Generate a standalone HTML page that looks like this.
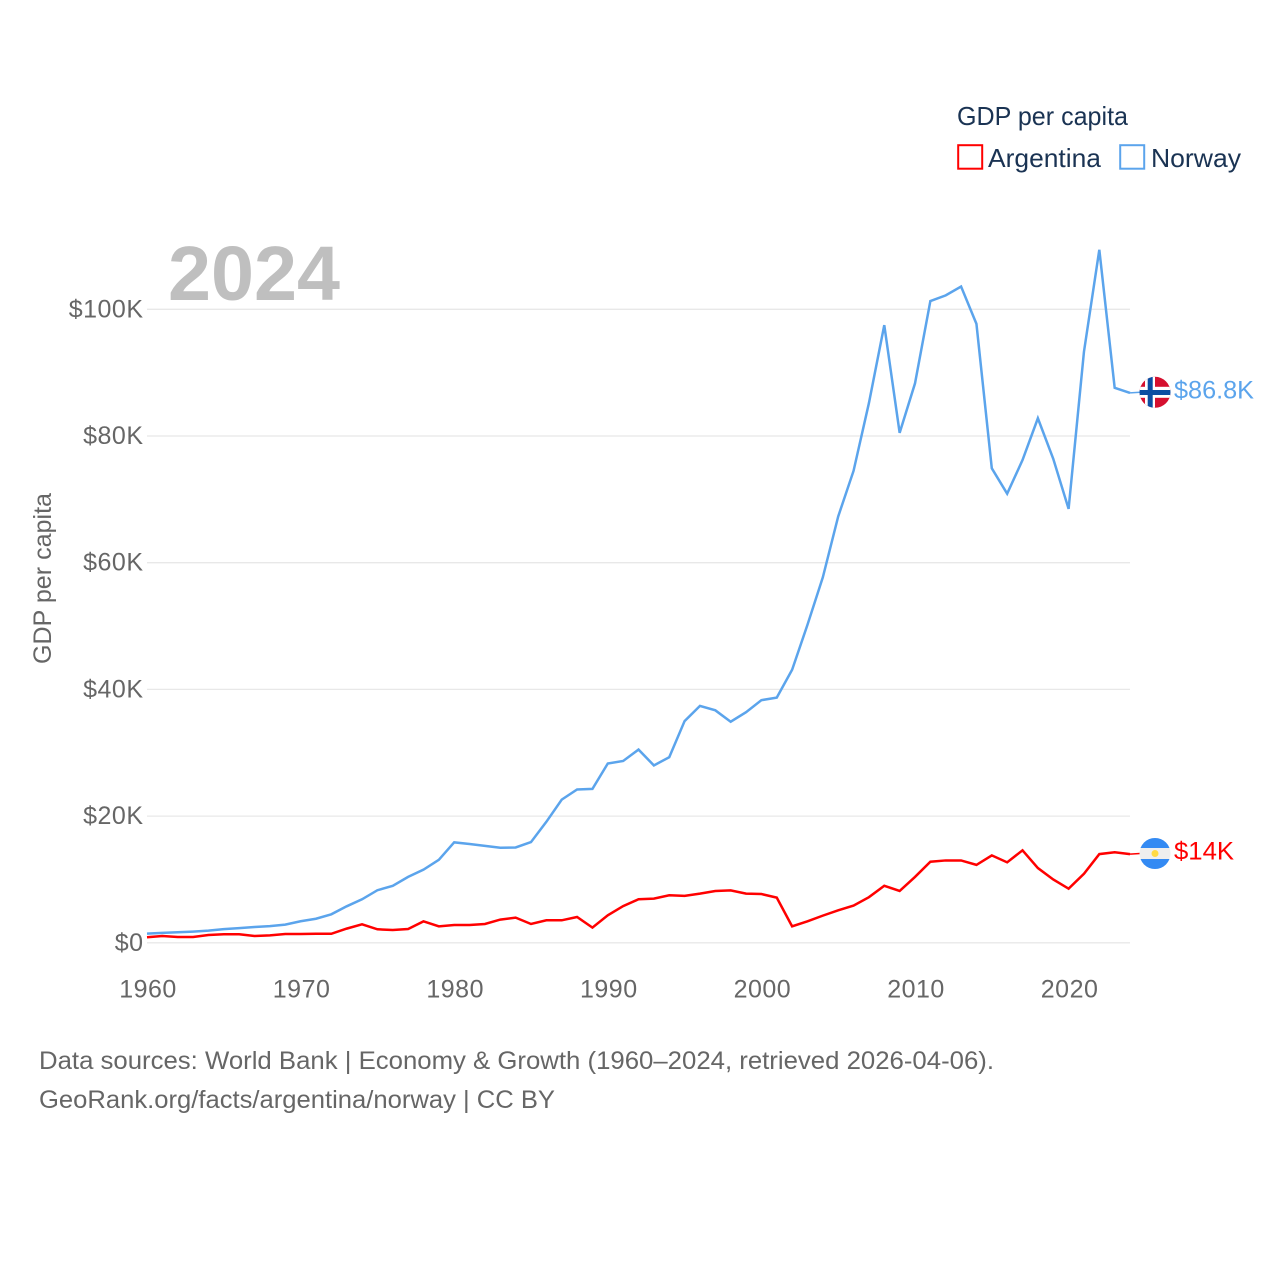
<!DOCTYPE html>
<html lang="en">
<head>
<meta charset="utf-8">
<title>GDP per capita: Argentina and Norway</title>
<style>
html,body{margin:0;padding:0;background:#fff}
svg{display:block}
text{font-family:"Liberation Sans",sans-serif}
.tick{font-size:25px;letter-spacing:.5px;fill:#666}
.foot{font-size:25px;fill:#666}
.leg{font-size:26px;fill:#1a3353}
</style>
</head>
<body>
<svg id="chart" xmlns="http://www.w3.org/2000/svg" width="1280" height="1280" viewBox="0 0 1280 1280">
  <defs>
    <clipPath id="flag-clip-no"><circle cx="1155" cy="392.3" r="15.5"/></clipPath>
    <clipPath id="flag-clip-ar"><circle cx="1155" cy="853.5" r="15.5"/></clipPath>
  </defs>
  <rect width="1280" height="1280" fill="#fff"/>
  <g id="grid"></g>
  <text x="168" y="300" font-size="77" font-weight="700" fill="#bfbfbf" textLength="172" lengthAdjust="spacingAndGlyphs">2024</text>
  <g id="yticks"></g>
  <g id="xticks"></g>
  <text transform="translate(51,578.5) rotate(-90)" text-anchor="middle" font-size="25" fill="#666" textLength="171" lengthAdjust="spacingAndGlyphs">GDP per capita</text>
  <g id="series"></g>

  <g>
    <text class="leg" x="957" y="125" textLength="171" lengthAdjust="spacingAndGlyphs">GDP per capita</text>
    <g>
      <rect x="958.2" y="145.2" width="24" height="23.5" fill="none" stroke="#ff0000" stroke-width="2"/>
      <text class="leg" x="988" y="167" textLength="113" lengthAdjust="spacingAndGlyphs">Argentina</text>
    </g>
    <g>
      <rect x="1120.2" y="145.2" width="24" height="23.5" fill="none" stroke="#5ba4ec" stroke-width="2"/>
      <text class="leg" x="1151" y="167" textLength="90" lengthAdjust="spacingAndGlyphs">Norway</text>
    </g>
  </g>

  <g clip-path="url(#flag-clip-no)">
    <rect x="1139" y="376" width="32" height="32" fill="#d5102f"/>
    <rect x="1145" y="376" width="10" height="32" fill="#fff"/>
    <rect x="1139" y="386.8" width="32" height="11" fill="#fff"/>
    <rect x="1147.7" y="376" width="5" height="32" fill="#0b4ea2"/>
    <rect x="1139" y="390" width="32" height="5" fill="#0b4ea2"/>
  </g>
  <g clip-path="url(#flag-clip-ar)">
    <rect x="1139" y="838" width="32" height="31" fill="#eeeeee"/>
    <rect x="1139" y="838" width="32" height="10" fill="#338af3"/>
    <rect x="1139" y="859" width="32" height="10" fill="#338af3"/>
    <circle cx="1155" cy="853.5" r="3.5" fill="#ffda44"/>
  </g>
  <text x="1174" y="398.5" font-size="25" fill="#5ba4ec" textLength="80" lengthAdjust="spacingAndGlyphs">$86.8K</text>
  <text x="1174" y="859.5" font-size="25" fill="#ff0000" textLength="60" lengthAdjust="spacingAndGlyphs">$14K</text>

  <text class="foot" x="39" y="1069" textLength="955" lengthAdjust="spacingAndGlyphs">Data sources: World Bank | Economy &amp; Growth (1960–2024, retrieved 2026-04-06).</text>
  <text class="foot" x="39" y="1108" textLength="516" lengthAdjust="spacingAndGlyphs">GeoRank.org/facts/argentina/norway | CC BY</text>
</svg>
<script>
const years = [1960,1961,1962,1963,1964,1965,1966,1967,1968,1969,1970,1971,1972,1973,1974,1975,1976,1977,1978,1979,1980,1981,1982,1983,1984,1985,1986,1987,1988,1989,1990,1991,1992,1993,1994,1995,1996,1997,1998,1999,2000,2001,2002,2003,2004,2005,2006,2007,2008,2009,2010,2011,2012,2013,2014,2015,2016,2017,2018,2019,2020,2021,2022,2023,2024];
const argentina = [0.87,1.07,0.92,0.92,1.23,1.34,1.34,1.07,1.18,1.39,1.39,1.42,1.42,2.24,2.92,2.13,2.02,2.18,3.39,2.6,2.81,2.81,2.97,3.66,3.97,2.97,3.55,3.55,4.07,2.4,4.34,5.8,6.87,6.97,7.5,7.4,7.76,8.18,8.28,7.76,7.7,7.13,2.6,3.39,4.29,5.13,5.87,7.2,9.0,8.18,10.4,12.8,13.0,13.0,12.3,13.8,12.7,14.6,11.8,10.0,8.55,10.9,14.0,14.3,14.0];
const norway = [1.44,1.56,1.67,1.77,1.92,2.16,2.31,2.5,2.64,2.87,3.4,3.8,4.5,5.76,6.87,8.3,9.0,10.4,11.55,13.1,15.86,15.6,15.3,15.0,15.05,15.9,19.1,22.6,24.2,24.3,28.3,28.7,30.5,28.0,29.3,35.0,37.4,36.7,34.9,36.4,38.3,38.7,43.1,50.2,57.7,67.3,74.5,85.2,97.5,80.5,88.3,101.3,102.2,103.6,97.7,74.9,70.9,76.2,82.8,76.4,68.5,93.3,109.4,87.6,86.8];
const yTickValues = [0,20,40,60,80,100];
const yTickLabels = ["$0","$20K","$40K","$60K","$80K","$100K"];
const xTickValues = [1960,1970,1980,1990,2000,2010,2020];

const SVG_NS = "http://www.w3.org/2000/svg";
function xScale(year){ return 147 + (year - 1960) * 15.36; }
function yScale(v){ return 942.8 - v * 6.335; }
function make(tag, attrs, parent){
  const el = document.createElementNS(SVG_NS, tag);
  for (const k in attrs) el.setAttribute(k, attrs[k]);
  parent.appendChild(el);
  return el;
}

const gridGroup = document.getElementById("grid");
const yGroup = document.getElementById("yticks");
yTickValues.forEach(function(v, i){
  const line = make("line", {x1:147, x2:1130, y1:yScale(v), y2:yScale(v), stroke:"#e8e8e8", "stroke-width":1.3}, gridGroup);
  
  
  const t = make("text", {class:"tick", x:143.5, y:yScale(v) + 8, "text-anchor":"end"}, yGroup);
  t.textContent = yTickLabels[i];
  
  
});

const xGroup = document.getElementById("xticks");
xTickValues.forEach(function(y){
  const t = make("text", {class:"tick", x:xScale(y) + 1, y:997.5, "text-anchor":"middle"}, xGroup);
  t.textContent = String(y);
  
  
});

function pathFor(vals){
  return vals.map(function(v, i){
    return (i ? "L" : "M") + xScale(years[i]).toFixed(2) + " " + yScale(v).toFixed(2);
  }).join(" ");
}
const seriesGroup = document.getElementById("series");

const norwayLine = make("path", {d:pathFor(norway), fill:"none", stroke:"#5ba4ec", "stroke-width":2.5, "stroke-linejoin":"miter"}, seriesGroup);



const argentinaLine = make("path", {d:pathFor(argentina), fill:"none", stroke:"#ff0000", "stroke-width":2.5, "stroke-linejoin":"miter"}, seriesGroup);



const lastIndex = years.length - 1;
const norwayConnector = make("line", {x1:xScale(years[lastIndex]), x2:1140, y1:yScale(norway[lastIndex]), y2:392.3, stroke:"#5ba4ec", "stroke-width":1.5}, seriesGroup);



const argentinaConnector = make("line", {x1:xScale(years[lastIndex]), x2:1140, y1:yScale(argentina[lastIndex]), y2:853.5, stroke:"#ff0000", "stroke-width":1.5}, seriesGroup);


</script>
</body>
</html>
